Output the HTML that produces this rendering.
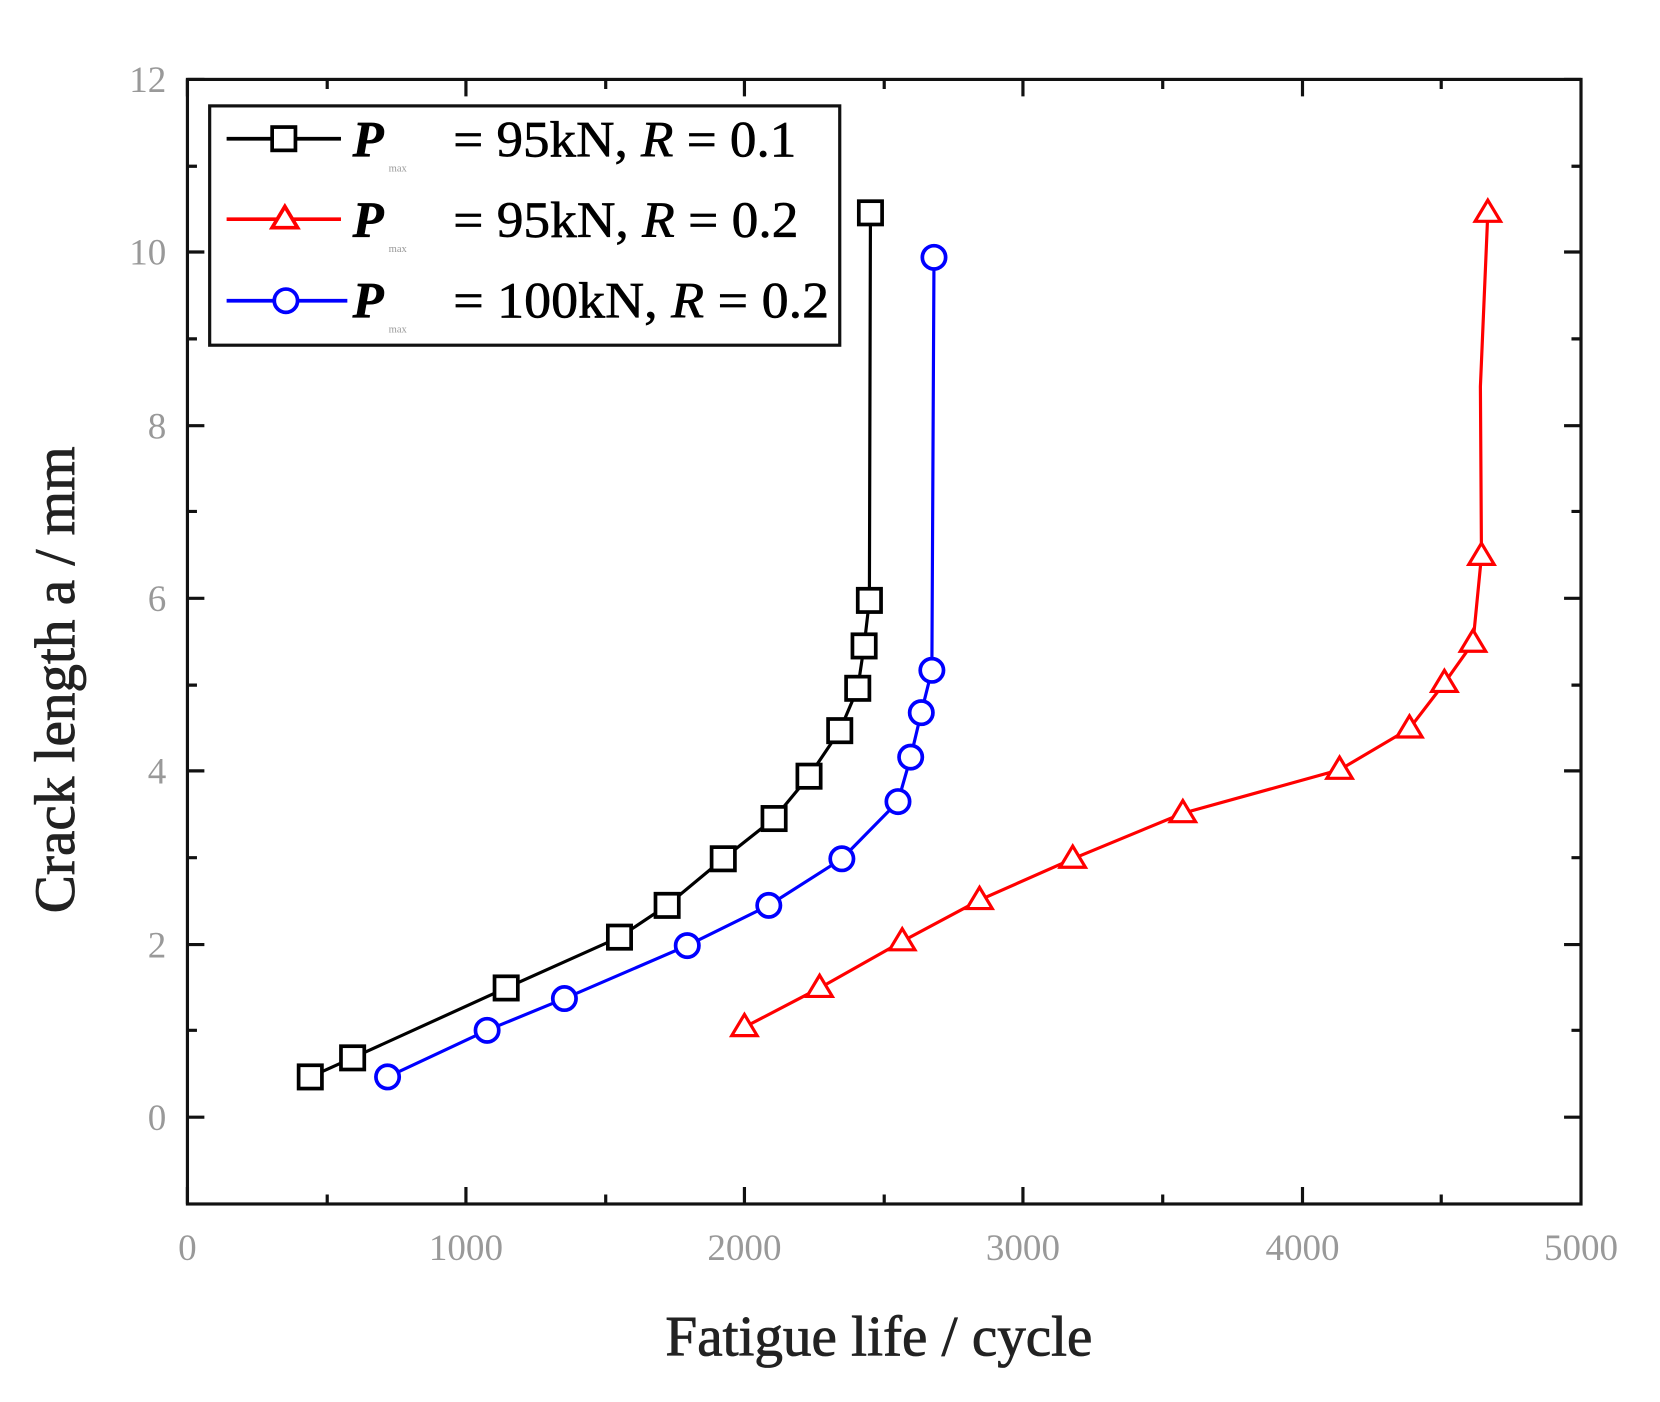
<!DOCTYPE html>
<html><head><style>html,body{margin:0;padding:0;background:#fff;width:1660px;height:1402px;overflow:hidden}</style></head>
<body>
<svg width="1660" height="1402" viewBox="0 0 1567.6 1324" preserveAspectRatio="none" xmlns="http://www.w3.org/2000/svg" font-family="Liberation Serif, serif">
<rect width="1600" height="1330" fill="#fff"/>
<g stroke="#111" stroke-width="3" fill="none">
<rect x="177" y="75" width="1316" height="1062"/>
<path d="M177,1137v-16M440,1137v-16M703,1137v-16M966,1137v-16M1230,1137v-16M309,1137v-9M572,1137v-9M835,1137v-9M1098,1137v-9M1361,1137v-9
M177,75v16M440,75v16M703,75v16M966,75v16M1230,75v16M309,75v9M572,75v9M835,75v9M1098,75v9M1361,75v9"/>
<path d="M177,75h16M177,238h16M177,402h16M177,565h16M177,728h16M177,892h16M177,1055h16
M177,157h9M177,320h9M177,483h9M177,647h9M177,810h9M177,973h9
M1493,75h-16M1493,238h-16M1493,402h-16M1493,565h-16M1493,728h-16M1493,892h-16M1493,1055h-16
M1493,157h-9M1493,320h-9M1493,483h-9M1493,647h-9M1493,810h-9M1493,973h-9"/>
</g>
<g fill="#999" font-size="35" text-anchor="end">
<text x="157" y="87">12</text><text x="157" y="250">10</text><text x="157" y="414">8</text><text x="157" y="577">6</text><text x="157" y="740">4</text><text x="157" y="904">2</text><text x="157" y="1067">0</text>
</g>
<g fill="#999" font-size="35" text-anchor="middle">
<text x="177" y="1190">0</text><text x="440" y="1190">1000</text><text x="703" y="1190">2000</text><text x="966" y="1190">3000</text><text x="1230" y="1190">4000</text><text x="1493" y="1190">5000</text>
</g>
<text x="830" y="1280" font-size="54" fill="#222" stroke="#222" stroke-width="0.8" text-anchor="middle">Fatigue life / cycle</text>
<text transform="translate(70,642) rotate(-90)" font-size="54" fill="#222" stroke="#222" stroke-width="0.8" text-anchor="middle">Crack length a / mm</text>

<polyline fill="none" stroke="#000" stroke-width="3" points="293,1017 333,999 478,933 585,885 630,855 683,811 731,773 764,733 793,690 810,650 816,610 821,567 822,201"/>
<g fill="#fff" stroke="#000" stroke-width="3.5">
<rect x="282" y="1006" width="22" height="22"/><rect x="322" y="988" width="22" height="22"/><rect x="467" y="922" width="22" height="22"/><rect x="574" y="874" width="22" height="22"/><rect x="619" y="844" width="22" height="22"/><rect x="672" y="800" width="22" height="22"/><rect x="720" y="762" width="22" height="22"/><rect x="753" y="722" width="22" height="22"/><rect x="782" y="679" width="22" height="22"/><rect x="799" y="639" width="22" height="22"/><rect x="805" y="599" width="22" height="22"/><rect x="810" y="556" width="22" height="22"/><rect x="811" y="190" width="22" height="22"/>
</g>
<polyline fill="none" stroke="#00f" stroke-width="3" points="366,1017 460,973 533,943 649,893 726,855 795,811 848,757 860,715 870,673 880,633 882,243"/>
<g fill="#fff" stroke="#00f" stroke-width="3.5">
<circle cx="366" cy="1017" r="11"/><circle cx="460" cy="973" r="11"/><circle cx="533" cy="943" r="11"/><circle cx="649" cy="893" r="11"/><circle cx="726" cy="855" r="11"/><circle cx="795" cy="811" r="11"/><circle cx="848" cy="757" r="11"/><circle cx="860" cy="715" r="11"/><circle cx="870" cy="673" r="11"/><circle cx="880" cy="633" r="11"/><circle cx="882" cy="243" r="11"/>
</g>
<polyline fill="none" stroke="#f00" stroke-width="3" points="703,970 774,933 852,889 925,850 1013,811 1117,768 1265,727 1331,688 1364,645 1391,607 1399,525 1398,365 1405,201"/>
<g fill="#fff" stroke="#f00" stroke-width="3">
<path d="M703,958l12,20h-24z"/><path d="M774,921l12,20h-24z"/><path d="M852,877l12,20h-24z"/><path d="M925,838l12,20h-24z"/><path d="M1013,799l12,20h-24z"/><path d="M1117,756l12,20h-24z"/><path d="M1265,715l12,20h-24z"/><path d="M1331,676l12,20h-24z"/><path d="M1364,633l12,20h-24z"/><path d="M1391,595l12,20h-24z"/><path d="M1399,513l12,20h-24z"/><path d="M1405,189l12,20h-24z"/>
</g>

<rect x="198" y="100" width="595" height="226" fill="#fff" stroke="#111" stroke-width="3"/>
<g stroke-width="3.5">
<path d="M214,131h108" stroke="#000"/><rect x="257" y="120" width="22" height="22" fill="#fff" stroke="#000"/>
<path d="M214,207h108" stroke="#f00"/><path d="M269,195l12,20h-24z" fill="#fff" stroke="#f00"/>
<path d="M214,284h114" stroke="#00f"/><circle cx="270" cy="284" r="11" fill="#fff" stroke="#00f"/>
</g>
<g font-size="48" fill="#000" stroke="#000" stroke-width="0.6">
<text x="333" y="148" font-style="italic" font-weight="bold">P</text><text x="367" y="162" font-size="10" fill="#999" stroke="none">max</text>
<text x="428" y="148" textLength="324" lengthAdjust="spacingAndGlyphs">= 95kN, <tspan font-style="italic">R</tspan> = 0.1</text>
<text x="333" y="224" font-style="italic" font-weight="bold">P</text><text x="367" y="238" font-size="10" fill="#999" stroke="none">max</text>
<text x="428" y="224" textLength="326" lengthAdjust="spacingAndGlyphs">= 95kN, <tspan font-style="italic">R</tspan> = 0.2</text>
<text x="333" y="300" font-style="italic" font-weight="bold">P</text><text x="367" y="314" font-size="10" fill="#999" stroke="none">max</text>
<text x="428" y="300" textLength="355" lengthAdjust="spacingAndGlyphs">= 100kN, <tspan font-style="italic">R</tspan> = 0.2</text>
</g>
</svg>
</body></html>
